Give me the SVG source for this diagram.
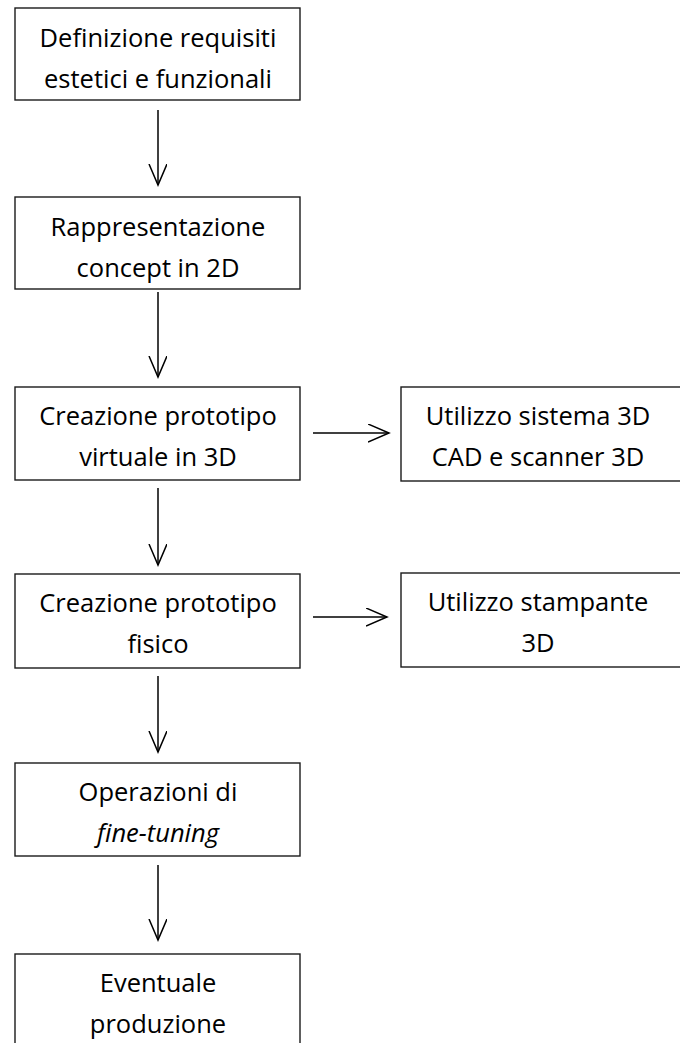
<svg xmlns="http://www.w3.org/2000/svg" width="680" height="1043" viewBox="0 0 680 1043">
  <style>
    .box { fill: #ffffff; stroke: #1a1a1a; stroke-width: 1.4; }
    .lbl { font-family: "Open Sans", Lato, "Liberation Sans", sans-serif; font-size: 25.5px; fill: #000000; text-anchor: middle; font-variant-ligatures: none; }
    .edge { fill: none; stroke: #000000; stroke-width: 1.5; }
  </style>
  <defs>
    <marker id="arrow" markerUnits="userSpaceOnUse" markerWidth="24" markerHeight="22" refX="21" refY="9" orient="auto" viewBox="0 0 24 22">
      <path d="M0,0 L21,9 L0,18" fill="none" stroke="#000000" stroke-width="1.5"/>
    </marker>
  </defs>
  <rect width="680" height="1043" fill="#ffffff"/>

  <g id="connectors">
    <line class="edge" x1="158" y1="110" x2="158" y2="185" marker-end="url(#arrow)"/>
    <line class="edge" x1="158" y1="292" x2="158" y2="377" marker-end="url(#arrow)"/>
    <line class="edge" x1="158" y1="488" x2="158" y2="565" marker-end="url(#arrow)"/>
    <line class="edge" x1="158" y1="676" x2="158" y2="752" marker-end="url(#arrow)"/>
    <line class="edge" x1="158" y1="865" x2="158" y2="940" marker-end="url(#arrow)"/>
    <line class="edge" x1="313" y1="433" x2="389" y2="433" marker-end="url(#arrow)"/>
    <line class="edge" x1="313" y1="617" x2="387" y2="617" marker-end="url(#arrow)"/>
  </g>

  <g id="requisiti">
    <rect class="box" x="15" y="8" width="285" height="92"/>
    <text class="lbl" x="158" y="47">Definizione requisiti</text>
    <text class="lbl" x="158" y="88">estetici e funzionali</text>
  </g>

  <g id="concept2d">
    <rect class="box" x="15" y="197" width="285" height="92"/>
    <text class="lbl" x="158" y="236">Rappresentazione</text>
    <text class="lbl" x="158" y="277">concept in 2D</text>
  </g>

  <g id="prototipo-virtuale">
    <rect class="box" x="15" y="387" width="285" height="93"/>
    <text class="lbl" x="158" y="425">Creazione prototipo</text>
    <text class="lbl" x="158" y="466">virtuale in 3D</text>
  </g>

  <g id="cad-scanner">
    <rect class="box" x="401" y="387" width="290" height="94"/>
    <text class="lbl" x="538" y="425">Utilizzo sistema 3D</text>
    <text class="lbl" x="538" y="466">CAD e scanner 3D</text>
  </g>

  <g id="prototipo-fisico">
    <rect class="box" x="15" y="574" width="285" height="94"/>
    <text class="lbl" x="158" y="612">Creazione prototipo</text>
    <text class="lbl" x="158" y="653">fisico</text>
  </g>

  <g id="stampante">
    <rect class="box" x="401" y="573" width="290" height="94"/>
    <text class="lbl" x="538" y="611">Utilizzo stampante</text>
    <text class="lbl" x="538" y="652">3D</text>
  </g>

  <g id="fine-tuning">
    <rect class="box" x="15" y="763" width="285" height="93"/>
    <text class="lbl" x="158" y="801">Operazioni di</text>
    <text class="lbl" x="158" y="842" font-style="italic">fine-tuning</text>
  </g>

  <g id="produzione">
    <rect class="box" x="15" y="954" width="285" height="100"/>
    <text class="lbl" x="158" y="992">Eventuale</text>
    <text class="lbl" x="158" y="1033">produzione</text>
  </g>
</svg>
